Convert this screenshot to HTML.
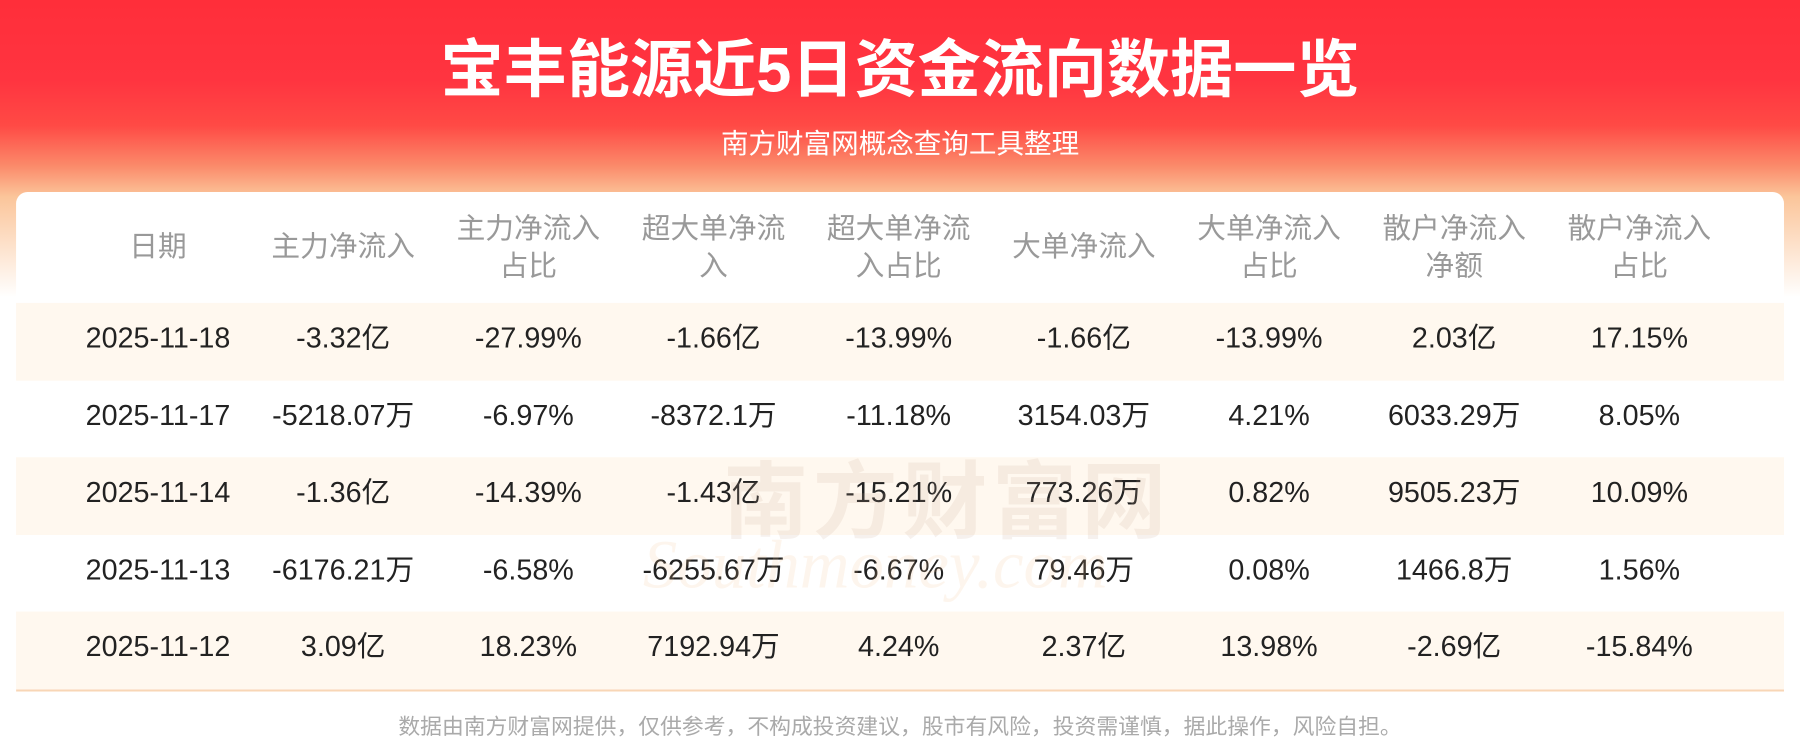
<!DOCTYPE html>
<html><head><meta charset="utf-8">
<style>
*{margin:0;padding:0;box-sizing:border-box}
html,body{width:1800px;height:743px;overflow:hidden;background:#fff}
#wrap{width:1568px;height:650px;transform:scale(1.148,1.1431);transform-origin:0 0;position:relative;font-family:"Liberation Sans","Noto Sans CJK SC",sans-serif;
background:linear-gradient(180deg,#ff2e3a 0px,#ff3440 70px,#ff4a45 110px,#fb8a6a 145px,#fbc59a 172px,#fff 260px,#fff 100%)}
.title{position:absolute;top:16px;left:0;width:100%;text-align:center;color:#fff;font-size:55px;font-weight:bold;letter-spacing:0px}
.sub{position:absolute;top:106px;left:0;width:100%;text-align:center;color:#fff;font-size:24px}
.card{position:absolute;left:14px;top:168px;width:1540px;height:437px;background:#fff;border-radius:10px 10px 0 0;border-bottom:2px solid #f8d6b6}
.row{position:absolute;left:0;width:1540px;display:flex;padding-left:43px}
.row div{width:161.3px;text-align:center;flex:none;white-space:nowrap}
.hd{top:0;height:97px;color:#999;font-size:25px;line-height:33px;align-items:center}
.d{height:68px;line-height:62px;font-size:25px;color:#222}
.c{background:#fff8ef}
.foot{position:absolute;top:621px;left:0;width:100%;text-align:center;color:#aaa;font-size:19px}
.wm{position:absolute;left:630px;top:380px;font-size:74px;color:rgba(200,170,150,0.16);font-weight:bold;letter-spacing:4px}
.wm2{position:absolute;left:560px;top:460px;font-size:60px;color:rgba(240,190,140,0.16);font-style:italic;font-family:"Liberation Serif",serif}
</style></head><body><div id="wrap">
<div class="title">宝丰能源近5日资金流向数据一览</div>
<div class="sub">南方财富网概念查询工具整理</div>
<div class="card">
<div class="row hd"><div>日期</div><div>主力净流入</div><div>主力净流入<br>占比</div><div>超大单净流<br>入</div><div>超大单净流<br>入占比</div><div>大单净流入</div><div>大单净流入<br>占比</div><div>散户净流入<br>净额</div><div>散户净流入<br>占比</div></div>
<div class="row d c" style="top:97px"><div>2025-11-18</div><div>-3.32亿</div><div>-27.99%</div><div>-1.66亿</div><div>-13.99%</div><div>-1.66亿</div><div>-13.99%</div><div>2.03亿</div><div>17.15%</div></div>
<div class="row d" style="top:165px"><div>2025-11-17</div><div>-5218.07万</div><div>-6.97%</div><div>-8372.1万</div><div>-11.18%</div><div>3154.03万</div><div>4.21%</div><div>6033.29万</div><div>8.05%</div></div>
<div class="row d c" style="top:232px"><div>2025-11-14</div><div>-1.36亿</div><div>-14.39%</div><div>-1.43亿</div><div>-15.21%</div><div>773.26万</div><div>0.82%</div><div>9505.23万</div><div>10.09%</div></div>
<div class="row d" style="top:300px"><div>2025-11-13</div><div>-6176.21万</div><div>-6.58%</div><div>-6255.67万</div><div>-6.67%</div><div>79.46万</div><div>0.08%</div><div>1466.8万</div><div>1.56%</div></div>
<div class="row d c" style="top:367px"><div>2025-11-12</div><div>3.09亿</div><div>18.23%</div><div>7192.94万</div><div>4.24%</div><div>2.37亿</div><div>13.98%</div><div>-2.69亿</div><div>-15.84%</div></div>
</div>
<div class="wm">南方财富网</div>
<div class="wm2">Southmoney.com</div>
<div class="foot">数据由南方财富网提供，仅供参考，不构成投资建议，股市有风险，投资需谨慎，据此操作，风险自担。</div>
</div></body></html>
